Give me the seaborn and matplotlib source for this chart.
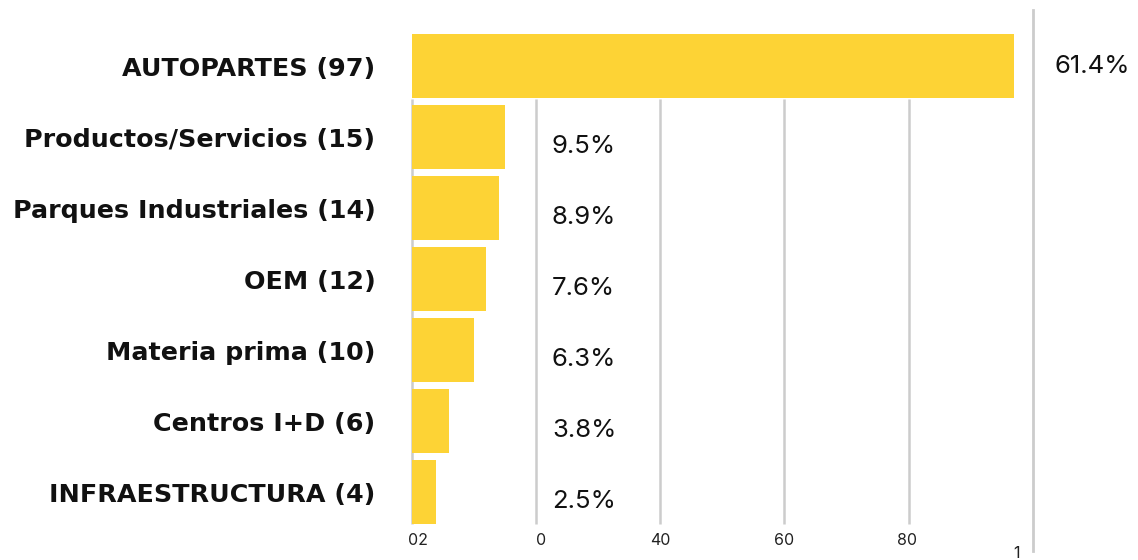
#!/usr/bin/env python3
import matplotlib
matplotlib.use("Agg")
import matplotlib.pyplot as plt
import pandas as pd
import seaborn as sns

# ------------------------------------------------------------------------------
# Data
# ------------------------------------------------------------------------------
CATEGORIES = [
    "AUTOPARTES (97)",
    "Productos/Servicios (15)",
    "Parques Industriales (14)",
    "OEM (12)",
    "Materia prima (10)",
    "Centros I+D (6)",
    "INFRAESTRUCTURA (4)",
]
COUNTS = [97, 15, 14, 12, 10, 6, 4]
PCT_LABELS = ["61.4%", "9.5%", "8.9%", "7.6%", "6.3%", "3.8%", "2.5%"]
# tick labels exactly as they appear in the original (garbled)
TICK_VALUES = [0, 20, 40, 60, 80, 100]
TICK_LABELS = ["02", "0", "40", "60", "80", "1"]

# ------------------------------------------------------------------------------
# Plot parameters
# ------------------------------------------------------------------------------
BAR_COLOR = "#FDD335"
GRID_COLOR = "#CCCCCC"
LABEL_FONT = "DejaVu Sans"
VALUE_FONT = "Inter"


def plot_bars(df):
  fig = plt.figure(figsize=(11.38, 5.6), dpi=100)
  ax = fig.add_axes([411.5 / 1138, 9 / 560, 621.5 / 1138, 541 / 560])

  sns.barplot(data=df, x="count", y="category", orient="h",
              color=BAR_COLOR, saturation=1, width=0.915, ax=ax, zorder=2)

  ax.set_xlim(0, 100)
  ax.set_ylim(6.831, -0.789)

  # grid lines (not clipped, the outer ones sit on the axes edges)
  ax.vlines(TICK_VALUES[:-1], 0.46, 6.45, color=GRID_COLOR, lw=1.8,
            zorder=1, clip_on=False)
  ax.axvline(TICK_VALUES[-1], color=GRID_COLOR, lw=2, zorder=1,
             clip_on=False)

  # value labels
  for i, (v, lbl) in enumerate(zip(df["count"], df["pct"])):
    if v > 50:
      ax.text(v + 6.4, i, lbl, ha="left", va="center", fontsize=18.5,
              family=VALUE_FONT, color="#111111")
    else:
      ax.text(22.6, i + 0.14, lbl, ha="left", va="center", fontsize=18.5,
              family=VALUE_FONT, color="#111111")

  # x tick labels (drawn as text to reproduce the odd placement)
  offsets = [1.0, 0.8, 0.0, 0.0, -0.2, -2.6]
  ys = [6.69, 6.69, 6.69, 6.69, 6.69, 6.87]
  for t, lbl, dx, y in zip(TICK_VALUES, TICK_LABELS, offsets, ys):
    ax.text(t + dx, y, lbl, ha="center", va="center", fontsize=11.5,
            family=VALUE_FONT, color="#222222")

  ax.set_xticks([])
  ax.set_xlabel("")
  ax.set_ylabel("")
  ax.tick_params(axis="y", length=0, pad=26)
  for lbl in ax.get_yticklabels():
    lbl.set_fontfamily(LABEL_FONT)
    lbl.set_fontweight("bold")
    lbl.set_fontsize(18.3)
    lbl.set_color("#111111")
  for s in ax.spines.values():
    s.set_visible(False)

  fig.savefig("out.png", dpi=100)


def main():
  df = pd.DataFrame({"category": CATEGORIES, "count": COUNTS,
                     "pct": PCT_LABELS})
  plot_bars(df)


if __name__ == "__main__":
  main()
